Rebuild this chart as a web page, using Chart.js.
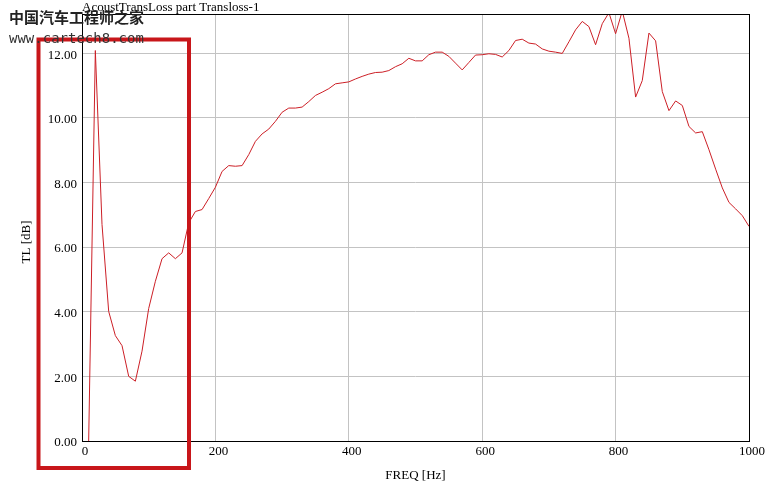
<!DOCTYPE html>
<html>
<head>
<meta charset="utf-8">
<script src="https://cdn.jsdelivr.net/npm/chart.js@4/dist/chart.umd.min.js"></script>
<style>
  html, body { margin: 0; padding: 0; background: #fff; }
  canvas { display: block; }
</style>
</head>
<body>
<canvas id="tl" width="775" height="502"></canvas>
<script>
// data, one point every 10 Hz
var freqHz = [
  10, 20, 30, 40, 50, 60, 70, 80, 90, 100,
  110, 120, 130, 140, 150, 160, 170, 180, 190, 200,
  210, 220, 230, 240, 250, 260, 270, 280, 290, 300,
  310, 320, 330, 340, 350, 360, 370, 380, 390, 400,
  410, 420, 430, 440, 450, 460, 470, 480, 490, 500,
  510, 520, 530, 540, 550, 560, 570, 580, 590, 600,
  610, 620, 630, 640, 650, 660, 670, 680, 690, 700,
  710, 720, 730, 740, 750, 760, 770, 780, 790, 800,
  810, 820, 830, 840, 850, 860, 870, 880, 890, 900,
  910, 920, 930, 940, 950, 960, 970, 980, 990, 1000
]
var tlDb = [
  0.00, 12.08, 6.70, 4.01, 3.26, 2.95, 2.00, 1.85, 2.78, 4.10,
  4.94, 5.64, 5.82, 5.64, 5.82, 6.75, 7.10, 7.16, 7.50, 7.85,
  8.34, 8.52, 8.50, 8.52, 8.86, 9.27, 9.50, 9.65, 9.89, 10.17,
  10.30, 10.30, 10.33, 10.50, 10.69, 10.79, 10.90, 11.05, 11.08, 11.11,
  11.20, 11.28, 11.35, 11.40, 11.41, 11.46, 11.58, 11.67, 11.84, 11.76,
  11.76, 11.95, 12.03, 12.03, 11.90, 11.69, 11.48, 11.71, 11.94, 11.95,
  11.98, 11.96, 11.88, 12.08, 12.39, 12.43, 12.31, 12.28, 12.13, 12.06,
  12.03, 11.99, 12.35, 12.72, 12.98, 12.82, 12.26, 12.91, 13.25, 12.60,
  13.30, 12.46, 10.64, 11.15, 12.62, 12.38, 10.81, 10.22, 10.52, 10.38,
  9.73, 9.53, 9.57, 9.01, 8.41, 7.83, 7.38, 7.18, 6.97, 6.64
]
var xTicks = [0, 200, 400, 600, 800, 1000]
var yTicks = [0, 2, 4, 6, 8, 10, 12]

var titleText = 'AcoustTransLoss part Transloss-1'
var xTitle = 'FREQ [Hz]'
var yTitle = 'TL [dB]'
var markCn = '中国汽车工程师之家'
var markUrl = 'www.cartech8.com'

var points = freqHz.map(function(f, i){ return {x: f, y: tlDb[i]} })

var serif = "'Liberation Serif', 'DejaVu Serif', serif"
Chart.defaults.font.family = serif
Chart.defaults.font.size = 13
Chart.defaults.color = '#000'

// frame, titles, the red box and the watermark on top
var decor = {
    id: 'decor',
    afterDraw: function(chart){
        var ctx = chart.ctx
        var a = chart.chartArea
        ctx.save()
        ctx.strokeStyle = '#000'
        ctx.lineWidth = 1
        ctx.strokeRect(Math.round(a.left) + 0.5, Math.round(a.top) + 0.5,
            Math.round(a.right - a.left), Math.round(a.bottom - a.top))

        ctx.fillStyle = '#000'
        ctx.font = '13px ' + serif
        ctx.textBaseline = 'alphabetic'
        ctx.textAlign = 'left'
        ctx.fillText(titleText, a.left, 11)

        ctx.textAlign = 'center'
        ctx.textBaseline = 'middle'
        ctx.fillText(xTitle, (a.left + a.right) / 2, 476)

        ctx.save()
        ctx.translate(27, 242)
        ctx.rotate(-Math.PI / 2)
        ctx.fillText(yTitle, 0, 0)
        ctx.restore()

        ctx.strokeStyle = '#c8161a'
        ctx.lineWidth = 4
        ctx.strokeRect(38.5, 39.5, 150.5, 428.5)

        ctx.textAlign = 'left'
        ctx.fillStyle = '#222'
        ctx.font = "bold 15px 'Noto Sans CJK SC'"
        ctx.fillText(markCn, 9, 17)
        ctx.fillStyle = '#333'
        ctx.font = "14px 'DejaVu Sans Mono'"
        ctx.fillText(markUrl, 9, 39)
        ctx.restore()
    }
}

var chart = new Chart(document.getElementById('tl'), {
    type: 'line',
    data: {
        datasets: [
            {
                data: points,
                borderColor: '#cc1f26',
                borderWidth: 1,
                pointRadius: 0,
                tension: 0,
                fill: false,
                clip: 0
            }
        ]
    },
    options: {
        responsive: false,
        animation: false,
        events: [],
        layout: { padding: { left: 0, top: 14, right: 26, bottom: 0 } },
        plugins: {
            legend: { display: false },
            tooltip: { enabled: false }
        },
        scales: {
            x: {
                type: 'linear',
                min: 0,
                max: 1000,
                afterFit: function(s){ s.height = 61 },
                afterBuildTicks: function(s){ s.ticks = xTicks.map(function(v){ return {value: v} }) },
                ticks: { padding: 3, labelOffset: 3, maxRotation: 0, callback: function(v){ return String(v) } },
                grid: { color: '#c3c3c3', drawTicks: false },
                border: { display: false }
            },
            y: {
                min: 0,
                max: 13.21,
                afterFit: function(s){ s.width = 82 },
                afterBuildTicks: function(s){ s.ticks = yTicks.map(function(v){ return {value: v} }) },
                ticks: { padding: 5, labelOffset: 2, callback: function(v){ return v.toFixed(2) } },
                grid: { color: '#c3c3c3', drawTicks: false },
                border: { display: false }
            }
        }
    },
    plugins: [decor]
});
</script>
</body>
</html>
